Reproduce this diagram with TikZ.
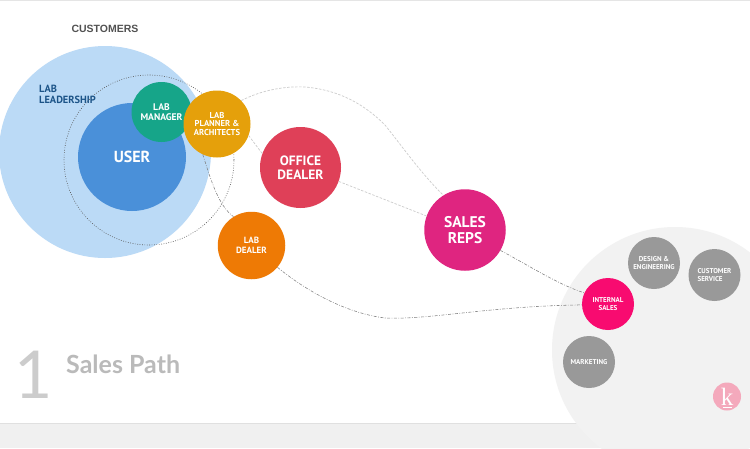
\documentclass[tikz,border=0pt]{standalone}
\usepackage{fontspec}
\setmainfont{Liberation Sans}
\newfontfamily\labelfont{PT Sans}
\newfontfamily\titlefont{Lato}
\newfontfamily\logofont{Liberation Serif}
\definecolor{cBlueL}{HTML}{BBDAF6}
\definecolor{cBlue}{HTML}{4A90D9}
\definecolor{cTeal}{HTML}{16A589}
\definecolor{cGold}{HTML}{E5A00B}
\definecolor{cRed}{HTML}{DF4058}
\definecolor{cOrange}{HTML}{EE7A05}
\definecolor{cMag}{HTML}{DF2580}
\definecolor{cHot}{HTML}{F80B70}
\definecolor{cGrey}{HTML}{999999}
\definecolor{cPale}{HTML}{F2F2F2}
\definecolor{cBand}{HTML}{F0F0F0}
\definecolor{cLogo}{HTML}{F4A9BC}
\definecolor{cNavy}{HTML}{1C5488}
\tikzset{
  x=1pt,y=-1pt,
  disc/.style={circle,inner sep=0pt,align=center,text=white},
  sz/.style n args={2}{font=\labelfont\bfseries\fontsize{#1}{#2}\selectfont},
  dotline/.style={draw=black!65,line width=.6pt,dash pattern=on .8pt off 1.6pt},
  softlink/.style={draw=black!20,line width=.7pt,dash pattern=on 2.5pt off 1.5pt},
  darklink/.style={draw=black!50,line width=.55pt,dash pattern=on 3pt off 1.5pt on .8pt off 1.5pt},
}
\begin{document}
\begin{tikzpicture}
\useasboundingbox (0,0) rectangle (750,448);
\fill[white] (0,0) rectangle (750,448);
\fill[black!10] (0,0) rectangle (750,1);
\fill[cBand] (0,423) rectangle (750,448);
\draw[black!12,line width=.6pt] (0,423) -- (580,423);
\begin{scope}
\clip (0,0) rectangle (750,448);
\node[circle,fill=cPale,minimum size=246pt,inner sep=0pt] (back) at (675,350) {};
\end{scope}
\node[circle,fill=cBlueL,minimum size=212pt,inner sep=0pt] (lead) at (105,152) {};
\node[circle,dotline,minimum size=170pt,inner sep=0pt] (ring) at (149,160) {};
\node[disc,fill=cBlue,minimum size=108pt,sz={16}{18}] (user) at (132,157) {USER};
\node[disc,fill=cTeal,minimum size=60pt,sz={9.6}{10}] (mgr) at (161.5,112) {LAB\\MANAGER};
\node[disc,fill=cGold,minimum size=67pt,sz={8.6}{8.7}] (plan) at (217,124) {LAB\\PLANNER \&\\ARCHITECTS};
\node[disc,fill=cRed,minimum size=81pt,sz={13.5}{14}] (office) at (300.5,167.5) {OFFICE\\DEALER};
\node[disc,fill=cOrange,minimum size=67.5pt,sz={9}{10}] (ldealer) at (251.5,245.5) {LAB\\DEALER};
\node[disc,fill=cMag,minimum size=81.5pt,sz={15.5}{16.7}] (reps) at (465,230) {SALES\\REPS};
\node[disc,fill=cHot,minimum size=52pt,sz={7}{7.4}] (internal) at (608,304) {INTERNAL\\SALES};
\node[disc,fill=cGrey,minimum size=52pt,sz={7}{7.4}] (design) at (654,263) {DESIGN \&\\ENGINEERING};
\node[disc,fill=cGrey,minimum size=52pt,sz={7}{7.4},align=left] (service) at (714.5,275) {CUSTOMER\\SERVICE};
\node[disc,fill=cGrey,minimum size=52pt,sz={7}{7.4}] (mkt) at (589,362) {MARKETING};
\node[circle,fill=cLogo,minimum size=28pt,inner sep=0pt,text=white,font=\logofont\fontsize{25}{25}\selectfont] (logo) at (727,396.5) {k};
\fill[white] (722.5,406.5) rectangle (731.5,407.5);
\draw[softlink] (plan.44) .. controls (262,90) and (285,86) .. (305,87)
  .. controls (340,90) and (365,105) .. (385,125)
  .. controls (405,150) and (420,172) .. (reps.122);
\draw[softlink] (plan.-20) -- (office.160);
\draw[softlink] (office.-20) -- (reps.160);
\draw[darklink] (plan.-115) .. controls (211,180) and (218,205) .. (ldealer.122);
\draw[darklink] (ldealer.-40) .. controls (305,290) and (345,313) .. (385,318)
  .. controls (430,320) and (490,306) .. (internal.182);
\draw[darklink] (reps.-30) .. controls (530,266) and (555,283) .. (internal.155);
\node[inner sep=0pt,text=black!68,font=\bfseries\fontsize{10.5}{12}\selectfont] (cust) at (105,29) {CUSTOMERS};
\node[inner sep=0pt,align=left,text=cNavy,anchor=west,font=\labelfont\bfseries\fontsize{10.4}{11.5}\selectfont] (leadlab) at (39,94.5) {LAB\\LEADERSHIP};
\node[inner sep=0pt,text=black!20,font=\titlefont\fontsize{66}{66}\selectfont] (num) at (34,375) {1};
\node[inner sep=0pt,text=black!27,font=\titlefont\bfseries\fontsize{25}{27}\selectfont,anchor=west] (title) at (66,364) {Sales Path};
\end{tikzpicture}
\end{document}
